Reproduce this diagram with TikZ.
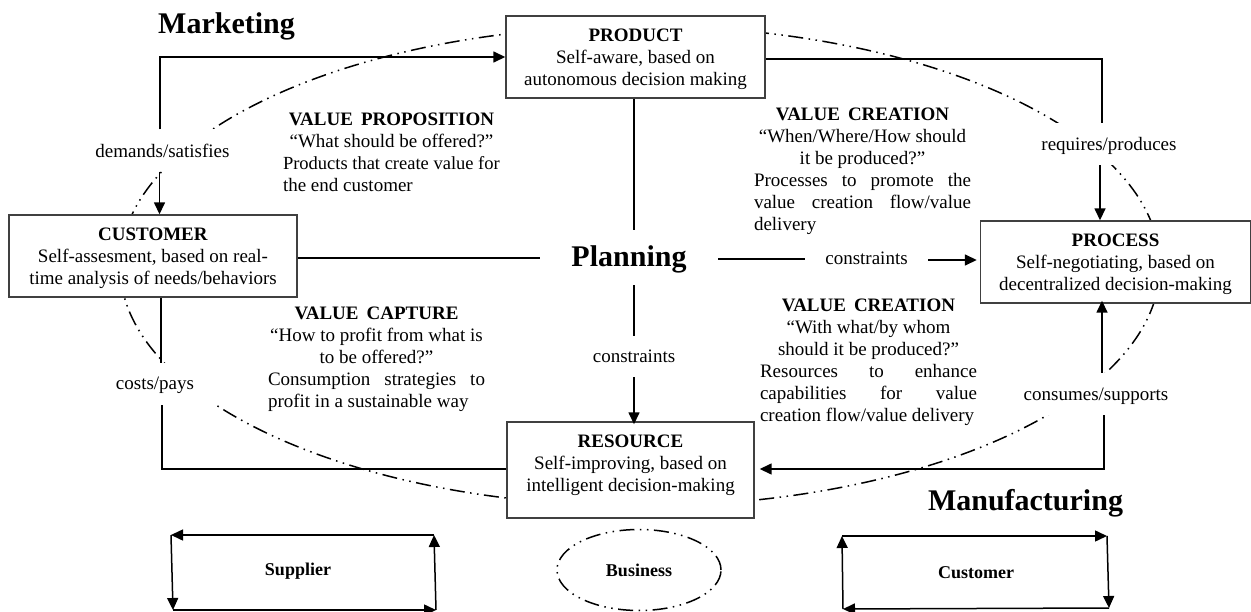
\documentclass[tikz,border=0pt]{standalone}
\usepackage{fontspec}
\setmainfont{Liberation Serif}
\usetikzlibrary{arrows.meta,shapes.geometric}
\newcommand\lnC[1]{\makebox[217pt][c]{#1}}
\newcommand\lnJ[1]{\makebox[217pt][s]{#1}}
\newcommand\lnL[1]{\makebox[217pt][l]{#1}}
\newcommand\hd[2]{\textbf{#1\hspace{8pt}#2}}
\newcommand\tp{\rule{0pt}{17.5pt}}
\tikzset{
  x=1pt,y=-1pt,
  base/.style={font=\fontsize{19}{22}\selectfont,inner sep=0pt},
  bigbox/.style={base,draw=black!75,line width=1.4pt,fill=white,align=center},
  rel/.style={base,fill=white,minimum height=42pt,align=center},
  block/.style={base,align=left},
  bighead/.style={inner sep=0pt,font=\fontsize{30}{34}\selectfont\bfseries},
  tinyhead/.style={inner sep=0pt,font=\fontsize{18}{22}\selectfont\bfseries},
  conn/.style={line width=1.5pt,black},
  arr/.style={conn,-{Triangle[length=12pt,width=11pt]}},
  ddash/.style={line width=1.5pt,dash pattern=on 15pt off 5.5pt on 1.5pt off 5.5pt on 1.5pt off 5.5pt},
}
\begin{document}
\begin{tikzpicture}
\useasboundingbox (0,0) rectangle (1251,612);
\draw[ddash] (640,266) ellipse [x radius=520,y radius=240];

\node[bigbox,minimum width=259pt,minimum height=82pt] (product) at (635.5,57) {\tp\textbf{PRODUCT}\\Self-aware, based on\\autonomous decision making};
\node[bigbox,minimum width=288pt,minimum height=82pt] (customer) at (153,256) {\tp\textbf{CUSTOMER}\\Self-assesment, based on real-\\time analysis of needs/behaviors};
\node[bigbox,minimum width=270pt,minimum height=82pt] (process) at (1115.5,262) {\tp\textbf{PROCESS}\\Self-negotiating, based on\\decentralized decision-making};
\node[bigbox,minimum width=247pt,minimum height=96pt] (resource) at (630.5,470) {\textbf{RESOURCE}\\Self-improving, based on\\intelligent decision-making\\[-8pt]~};

\node[inner sep=0pt,minimum width=178pt,minimum height=55pt,font=\fontsize{30}{34}\selectfont\bfseries] (planning) at (629,257.5) {\rule{0pt}{24pt}Planning};
\node[bighead] (marketing) at (226.5,26) {Marketing};
\node[bighead] (manufacturing) at (1025.5,503) {Manufacturing};

\node[rel,minimum width=145pt] (demands) at (162.5,150.5) {demands/satisfies};
\node[rel,minimum width=124pt] (costs) at (155,384) {\rule{0pt}{15pt}costs/pays};
\node[rel,minimum width=145pt] (requires) at (1109,144) {\tp requires/produces};
\node[rel,minimum width=145pt] (consumes) at (1096,394) {\tp consumes/supports};
\node[base,minimum width=123pt] (constraintsR) at (866.5,258) {constraints};
\node[base,minimum height=41pt] (constraintsD) at (634,356.5) {constraints};

\node[block] (vprop) at (391.5,152) {\lnC{\hd{VALUE}{PROPOSITION}}\\\lnC{“What should be offered?”}\\\lnL{\fontsize{18.5}{22}\selectfont Products that create value for}\\\lnL{the end customer}};
\node[block] (vcreateA) at (862.5,171.5) {\lnC{\hd{VALUE}{CREATION}}\\\lnC{“When/Where/How should}\\\lnC{it be produced?”}\\\lnJ{Processes to promote the}\\\lnJ{value creation flow/value}\\\lnL{delivery}};
\node[block] (vcreateB) at (868.5,362) {\lnC{\hd{VALUE}{CREATION}}\\\lnC{“With what/by whom}\\\lnC{should it be produced?”}\\\lnJ{Resources to enhance}\\\lnJ{capabilities for value}\\\lnL{creation flow/value delivery}};
\node[block] (vcapture) at (376.5,359) {\lnC{\hd{VALUE}{CAPTURE}}\\\lnC{“How to profit from what is}\\\lnC{to be offered?”}\\\lnJ{Consumption strategies to}\\\lnL{profit in a sustainable way}};

% main connectors
\draw[arr] ([xshift=-2.5pt]demands.north) |- (product.west |- 0,57);
\draw[arr] ([xshift=-3pt]demands.south) -- (customer.north -| 159.5,0);
\draw[conn] (product.east |- 0,59) -| ([xshift=-7pt]requires.north);
\draw[arr] ([xshift=-9pt]requires.south) -- ([xshift=-15.5pt]process.north);
\draw[arr] ([xshift=6pt]consumes.north) -- ([xshift=-13.5pt,yshift=3pt]process.south);
\draw[arr] ([xshift=8pt]consumes.south) |- ([xshift=5pt]resource.east |- 0,469);
\draw[conn] ([xshift=6pt]costs.north) -- (customer.south -| 161,0);
\draw[conn] ([xshift=7pt]costs.south) |- (resource.west |- 0,469);
\draw[conn] (customer.east |- 0,258) -- (planning.west |- 0,258);
\draw[conn] (product.south -| 634,0) -- (planning.north -| 634,0);
\draw[conn] (planning.south -| 634,0) -- (constraintsD.north);
\draw[arr] (constraintsD.south) -- ([yshift=-3pt]resource.north -| 634,0);
\draw[conn] (planning.east |- 0,259) -- (constraintsR.west |- 0,259);
\draw[arr] (constraintsR.east |- 0,260) -- ([xshift=-3pt]process.west |- 0,260);

% bottom cycles
\node[tinyhead] (supplier) at (298,571) {Supplier};
\coordinate (s1) at (434,535); \coordinate (s2) at (171,535);
\coordinate (s3) at (173,610); \coordinate (s4) at (436,610);
\draw[arr] (s1) -- (s2); \draw[arr] (s2) -- (s3); \draw[arr] (s3) -- (s4); \draw[arr] (s4) -- (s1);

\node[tinyhead,draw,ddash,ellipse,minimum width=164pt,minimum height=81pt] (business) at (639,570) {Business};

\node[tinyhead] (customerB) at (976,573) {Customer};
\coordinate (c1) at (843,609); \coordinate (c2) at (842,536);
\coordinate (c3) at (1107,536); \coordinate (c4) at (1109,608);
\draw[arr] (c1) -- (c2); \draw[arr] (c2) -- (c3); \draw[arr] (c3) -- (c4); \draw[arr] (c4) -- (c1);
\end{tikzpicture}
\end{document}
